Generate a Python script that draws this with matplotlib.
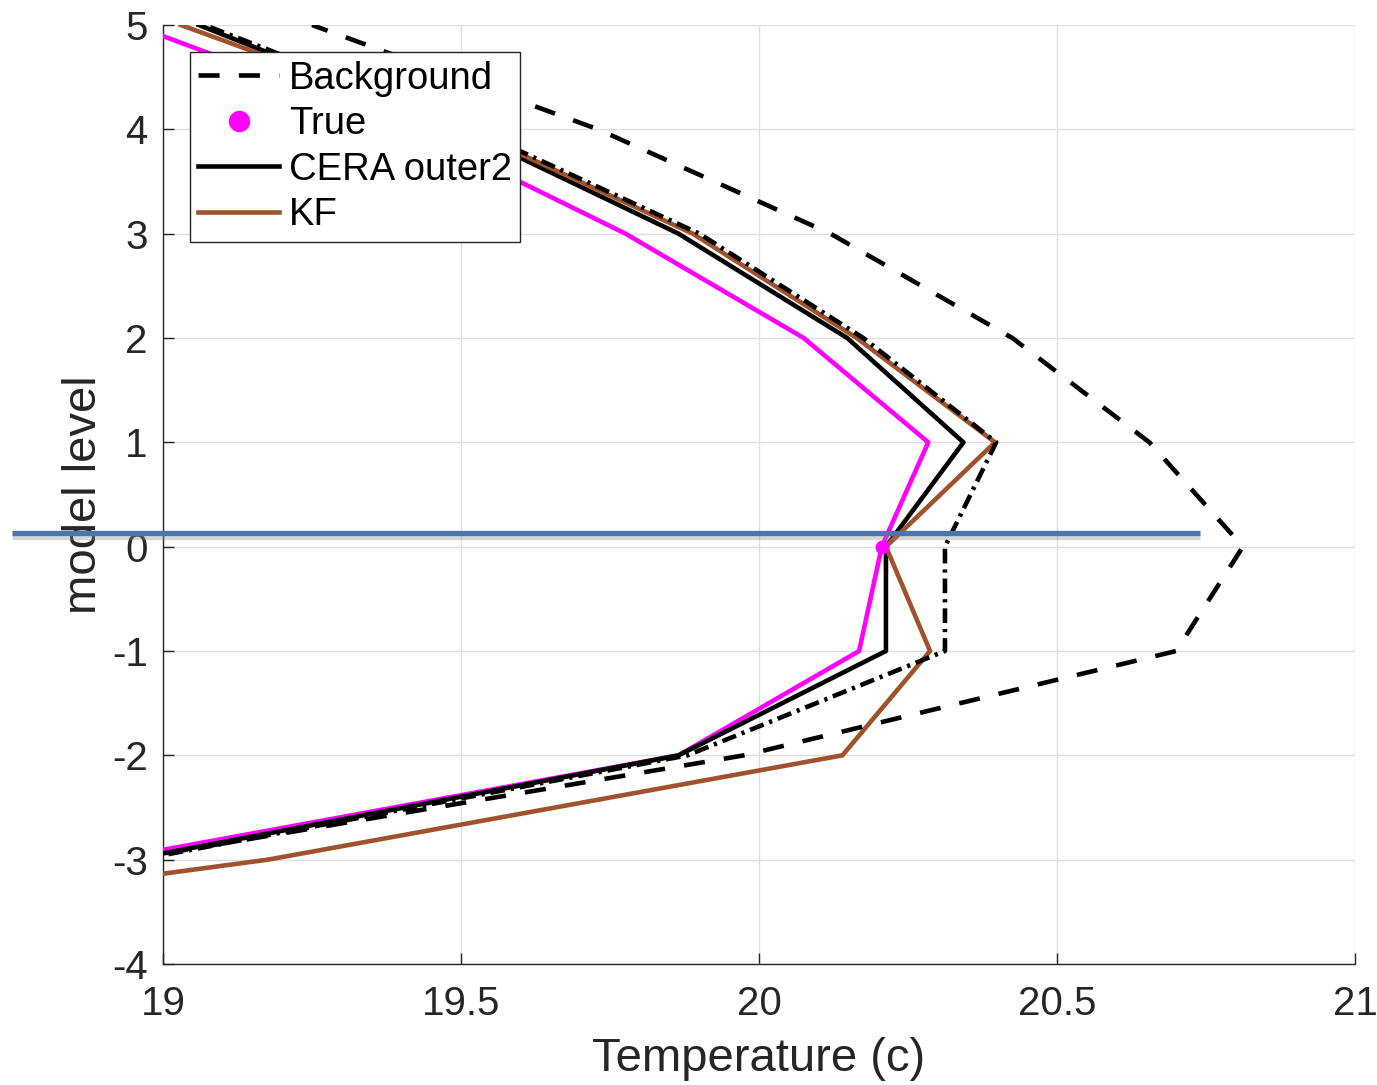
import matplotlib
matplotlib.use("Agg")
import matplotlib.pyplot as plt
import matplotlib.patheffects as pe

# model levels and temperature profiles
levels = [-3, -2, -1, 0, 1, 2, 3, 4, 5]
background = [18.94, 19.975, 20.70, 20.812, 20.655, 20.425, 20.12, 19.73, 19.25]
true_profile = [18.91, 19.865, 20.168, 20.206, 20.284, 20.075, 19.776, 19.42, 18.95]
cera_outer2 = [18.945, 19.865, 20.213, 20.213, 20.343, 20.148, 19.865, 19.50, 19.06]
cera_dashdot = [18.96, 19.88, 20.312, 20.312, 20.398, 20.175, 19.90, 19.52, 19.07]

kf_levels = [-4, -3, -2, -1, 0, 1, 2, 3, 4, 5]
kf = [17.87, 19.176, 20.140, 20.287, 20.213, 20.396, 20.164, 19.889, 19.51, 19.03]

# single observation
obs_level = [0]
obs_temp = [20.206]

# horizontal highlight line
highlight_level = 0.134
highlight_x = [18.747, 20.740]

xticks = [19, 19.5, 20, 20.5, 21]
xticklabels = ["19", "19.5", "20", "20.5", "21"]
yticks = [-4, -3, -2, -1, 0, 1, 2, 3, 4, 5]

plt.rcParams['font.family'] = ['Liberation Sans', 'DejaVu Sans']
plt.rcParams['axes.unicode_minus'] = False
txt = '#262626'
brown = '#A0522D'

fig = plt.figure(figsize=(13.77, 10.85), dpi=100, facecolor='white')
ax = fig.add_axes([163 / 1377, 1 - 964 / 1085, 1192 / 1377, 939 / 1085])

lw = 3.3
ax.plot(true_profile, levels, color='#FF00FF', lw=lw, zorder=3)
ax.plot(cera_outer2, levels, color='black', lw=lw, zorder=4, label='CERA outer2')
ax.plot(kf, kf_levels, color=brown, lw=lw, zorder=5, label='KF')
ax.plot(cera_dashdot, levels, color='black', lw=lw, zorder=6,
        dashes=(3.2, 1.3, 0.7, 1.3))
ax.plot(background, levels, color='black', lw=lw, zorder=6,
        dashes=(4.6, 4.2), label='Background')
ax.plot(obs_temp, obs_level, 'o', color='#FF00FF', ms=9, zorder=7,
        label='True')

ax.plot(highlight_x, [highlight_level, highlight_level], color='#4A76B0',
        lw=3.8, clip_on=False, zorder=10, solid_capstyle='butt',
        path_effects=[pe.SimpleLineShadow(offset=(0, -3), shadow_color='#888888', alpha=0.35),
                      pe.Normal()])

ax.set_xlim(19, 21)
ax.set_ylim(-4, 5)
ax.set_xticks(xticks)
ax.set_xticklabels(xticklabels)
ax.set_yticks(yticks)
ax.grid(True, color='#dfdfdf', lw=1.0)
ax.set_axisbelow(True)
for s in ['top', 'right']:
    ax.spines[s].set_visible(False)
for s in ['left', 'bottom']:
    ax.spines[s].set_color(txt)
    ax.spines[s].set_linewidth(1.0)
ax.tick_params(direction='in', length=8, width=1.0, color=txt,
               labelsize=29, labelcolor=txt)
ax.tick_params(axis='y', pad=11)
ax.tick_params(axis='x', pad=15)

ax.set_xlabel('Temperature (c)', fontsize=34, color=txt, labelpad=10)
ax.set_ylabel('model level', fontsize=34, color=txt, labelpad=4)

h, l = ax.get_legend_handles_labels()
order = ['Background', 'True', 'CERA outer2', 'KF']
hs = [h[l.index(k)] for k in order]
leg = ax.legend(hs, order, loc='upper left', bbox_to_anchor=(0.0227, 0.971),
                borderaxespad=0, fontsize=27.5, frameon=True, fancybox=False,
                edgecolor=txt, handlelength=2.1, handletextpad=0.27,
                labelspacing=0.25, borderpad=0.22, markerscale=1.6)
leg.get_frame().set_linewidth(1.0)
leg.get_frame().set_alpha(1)
leg.set_zorder(20)

fig.savefig('out.png', dpi=100, facecolor='white')
